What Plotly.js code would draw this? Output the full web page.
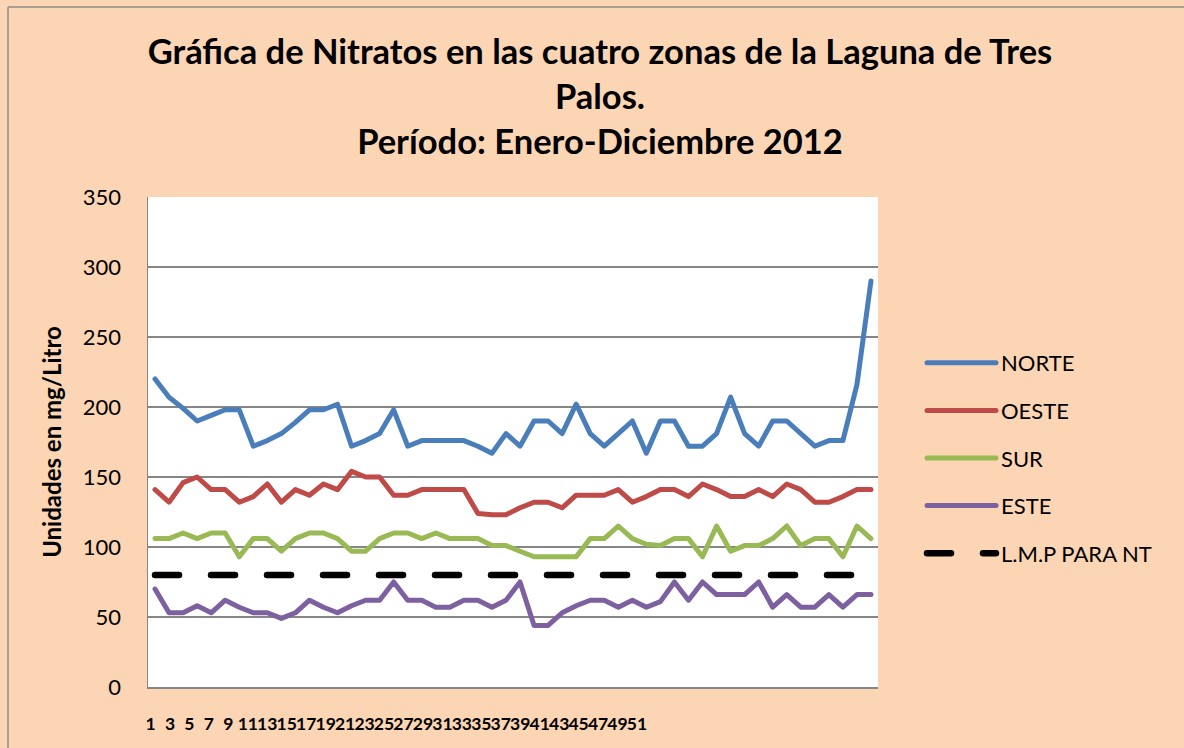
<!DOCTYPE html>
<html><head><meta charset="utf-8">
<script src="https://cdn.plot.ly/plotly-3.0.1.min.js"></script>
<style>
html,body{margin:0;padding:0;background:#FCD5B4;}
#chart{width:1184px;height:748px;}
path.js-line{stroke-linecap:round;stroke-linejoin:round;}
</style></head><body><div id="chart"></div>
<script>
const semanas = [1,2,3,4,5,6,7,8,9,10,11,12,13,14,15,16,17,18,19,20,21,22,23,24,25,26,27,28,29,30,31,32,33,34,35,36,37,38,39,40,41,42,43,44,45,46,47,48,49,50,51,52];
const norte = [220,207,199,190,194,198,198,172,176,181,189,198,198,202,172,176,181,198,172,176,176,176,176,172,167,181,172,190,190,181,202,181,172,181,190,167,190,190,172,172,181,207,181,172,190,190,181,172,176,176,216,290];
const oeste = [141,132,146,150,141,141,132,136,145,132,141,137,145,141,154,150,150,137,137,141,141,141,141,124,123,123,128,132,132,128,137,137,137,141,132,136,141,141,136,145,141,136,136,141,136,145,141,132,132,136,141,141];
const sur = [106,106,110,106,110,110,93,106,106,97,106,110,110,106,97,97,106,110,110,106,110,106,106,106,101,101,97,93,93,93,93,106,106,115,106,102,101,106,106,93,115,97,101,101,106,115,101,106,106,93,115,106];
const este = [70,53,53,58,53,62,57,53,53,49,53,62,57,53,58,62,62,75,62,62,57,57,62,62,57,62,75,44,44,53,58,62,62,57,62,57,61,75,62,75,66,66,66,75,57,66,57,57,66,57,66,66];
const lmp = [80,80,80,80,80,80,80,80,80,80,80,80,80,80,80,80,80,80,80,80,80,80,80,80,80,80,80,80,80,80,80,80,80,80,80,80,80,80,80,80,80,80,80,80,80,80,80,80,80,80,80,80];
const tickVals = [1,3,5,7,9,11,13,15,17,19,21,23,25,27,29,31,33,35,37,39,41,43,45,47,49,51];
const tickLabels = ['1','3','5','7','9','11','13','15','17','19','21','23','25','27','29','31','33','35','37','39','41','43','45','47','49','51'];
const yTicks = [0,50,100,150,200,250,300,350];

const FONT = 'Lato, "Open Sans", sans-serif';
function serie(name, y, color, width, dash) {
  return {x: semanas, y: y, name: name, type: 'scatter', mode: 'lines',
    legendgroup: name,
    line: {color: color, width: width, dash: dash || 'solid'}, hoverinfo: 'skip'};
}
const data = [
  serie('NORTE', norte, '#4A7EBB', 5),
  serie('OESTE', oeste, '#BE4B48', 5),
  serie('SUR', sur, '#98B954', 5),
  serie('ESTE', este, '#7D60A0', 5),
  serie('L.M.P PARA NT', lmp, '#000000', 6.5, '24px,32px'),
  // invisible helper so the tick-label axis (as laid out in the original) is drawn
  {x: tickVals, y: tickVals.map(() => null), xaxis: 'x2', yaxis: 'y', type: 'scatter',
    mode: 'lines', showlegend: false, hoverinfo: 'skip', line: {width: 0}}
];
const layout = {
  width: 1184, height: 748,
  paper_bgcolor: '#FCD5B4', plot_bgcolor: '#FFFFFF',
  margin: {l: 148, r: 306, t: 197, b: 61, pad: 0},
  font: {family: FONT, color: '#000000'},
  title: {text: 'Gráfica de Nitratos en las cuatro zonas de la Laguna de Tres<br>Palos.<br>Período: Enero-Diciembre 2012',
    font: {family: FONT, size: 34.5, color: '#000000', weight: 'bold'},
    x: 600/1184, xanchor: 'center', xref: 'container', y: 1 - 64/748, yanchor: 'middle', yref: 'container'},
  showlegend: true,
  legend: {x: (922-148)/730, xanchor: 'left', y: (687-342)/490, yanchor: 'top',
    bgcolor: 'rgba(0,0,0,0)', font: {family: FONT, size: 22, color: '#000000'},
    itemwidth: 69, traceorder: 'grouped', tracegroupgap: 16},
  xaxis: {range: [0.5, 52.5], showticklabels: false, showgrid: false, zeroline: false,
    showline: true, linecolor: '#868686', linewidth: 1.5, ticks: '', fixedrange: true},
  xaxis2: {overlaying: 'x', anchor: 'y', side: 'bottom', range: [0.743, 75.77],
    tickmode: 'array', tickvals: tickVals, ticktext: tickLabels, tickangle: 0,
    showgrid: false, zeroline: false, showline: false, ticks: '',
    ticklabelstandoff: 24,
    tickfont: {family: FONT, size: 17.5, color: '#000000', weight: 'bold'}, fixedrange: true},
  yaxis: {range: [0, 350], tickmode: 'array', tickvals: yTicks,
    showgrid: true, gridcolor: '#868686', gridwidth: 1.5, zeroline: false,
    showline: true, linecolor: '#868686', linewidth: 1.5, ticks: '',
    ticklabelstandoff: 21, automargin: true,
    tickfont: {family: FONT, size: 22, color: '#000000'},
    title: {text: 'Unidades en mg/Litro', standoff: 14,
      font: {family: FONT, size: 24, color: '#000000', weight: 'bold'}}, fixedrange: true},
  shapes: [
    {type: 'line', xref: 'paper', yref: 'paper', x0: (8-148)/730, x1: (1200-148)/730, y0: (687-7)/490, y1: (687-7)/490, line: {color: '#8c8c8c', width: 1.5}},
    {type: 'line', xref: 'paper', yref: 'paper', x0: (8-148)/730, x1: (8-148)/730, y0: (687-7)/490, y1: (687-760)/490, line: {color: '#8c8c8c', width: 1.5}}
  ]
};
Plotly.newPlot('chart', data, layout, {displayModeBar: false, staticPlot: true});
</script></body></html>
